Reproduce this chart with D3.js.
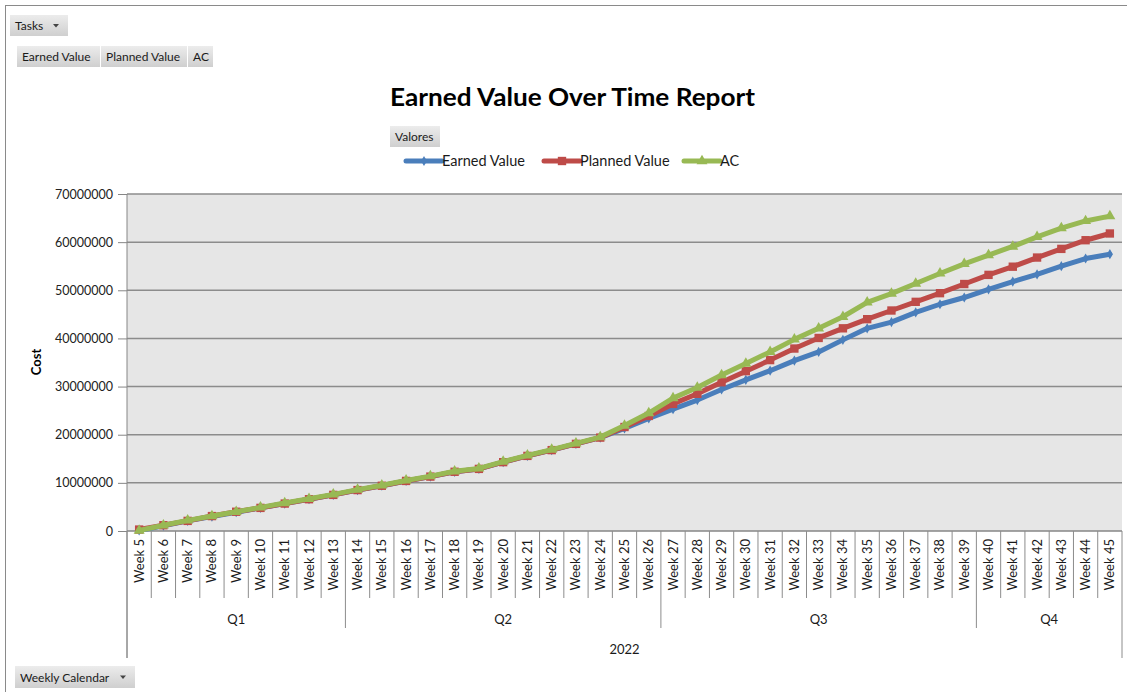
<!DOCTYPE html>
<html>
<head>
<meta charset="utf-8">
<script src="https://cdn.jsdelivr.net/npm/d3@7"></script>
<style>
  html, body { margin: 0; padding: 0; background: #fff; }
  svg { display: block; font-family: Lato, "Open Sans", sans-serif; }
</style>
</head>
<body>
<svg id="chart" width="1127" height="692"></svg>
<script>
// ---------------- DATA ----------------
const weeks = ["Week 5","Week 6","Week 7","Week 8","Week 9","Week 10","Week 11","Week 12","Week 13",
  "Week 14","Week 15","Week 16","Week 17","Week 18","Week 19","Week 20","Week 21","Week 22","Week 23",
  "Week 24","Week 25","Week 26","Week 27","Week 28","Week 29","Week 30","Week 31","Week 32","Week 33",
  "Week 34","Week 35","Week 36","Week 37","Week 38","Week 39","Week 40","Week 41","Week 42","Week 43",
  "Week 44","Week 45"];
const quarters = ["Q1","Q2","Q3","Q4"];
const quarterWeekCounts = [9, 13, 13, 6];
const yearLabel = "2022";
const seriesNames = ["Earned Value","Planned Value","AC"];
const earnedValue = [0.1e6,1.1e6,2.1e6,3.0e6,3.9e6,4.8e6,5.7e6,6.6e6,7.5e6,8.5e6,9.4e6,10.4e6,11.3e6,12.3e6,12.9e6,
  14.3e6,15.6e6,16.8e6,18.1e6,19.4e6,21.3e6,23.4e6,25.3e6,27.2e6,29.4e6,31.4e6,33.3e6,35.4e6,37.2e6,39.7e6,
  42.1e6,43.4e6,45.4e6,47.1e6,48.5e6,50.2e6,51.8e6,53.3e6,55.0e6,56.6e6,57.5e6];
const plannedValue = [0.3e6,1.2e6,2.1e6,3.1e6,4.0e6,4.8e6,5.7e6,6.6e6,7.5e6,8.5e6,9.4e6,10.4e6,11.3e6,12.3e6,12.9e6,
  14.3e6,15.6e6,16.8e6,18.1e6,19.4e6,21.6e6,23.9e6,26.4e6,28.5e6,30.9e6,33.2e6,35.5e6,37.9e6,40.1e6,42.1e6,
  44.0e6,45.8e6,47.6e6,49.4e6,51.3e6,53.2e6,54.9e6,56.8e6,58.6e6,60.4e6,61.8e6];
const actualCost = [0.1e6,1.2e6,2.2e6,3.1e6,4.0e6,4.9e6,5.8e6,6.7e6,7.6e6,8.6e6,9.5e6,10.5e6,11.4e6,12.4e6,13.0e6,
  14.4e6,15.7e6,16.9e6,18.2e6,19.5e6,21.9e6,24.5e6,27.6e6,29.8e6,32.4e6,34.8e6,37.2e6,39.8e6,42.1e6,44.5e6,
  47.5e6,49.3e6,51.4e6,53.5e6,55.5e6,57.3e6,59.1e6,61.1e6,62.9e6,64.4e6,65.4e6];
const yTicks = [0,10e6,20e6,30e6,40e6,50e6,60e6,70e6];

// ---------------- SETUP ----------------
const svg = d3.select("#chart");
const colors = ["#4A7EBB", "#BE4B48", "#98B954"];
const symbols = [d3.symbolDiamond, d3.symbolSquare, d3.symbolTriangle];
const symSizes = [30, 70, 52];
const seriesData = [earnedValue, plannedValue, actualCost];

const pLeft = 127, pRight = 1122, pTop = 194, pBottom = 531;
const x = d3.scaleBand().domain(weeks).range([pLeft, pRight]).padding(0);
const y = d3.scaleLinear().domain([0, 70e6]).range([pBottom, pTop]);

// Gradient for buttons
const defs = svg.append("defs");
const grad = defs.append("linearGradient").attr("id", "btn").attr("x1", 0).attr("y1", 0).attr("x2", 0).attr("y2", 1);
grad.append("stop").attr("offset", "0%").attr("stop-color", "#ececec");
grad.append("stop").attr("offset", "100%").attr("stop-color", "#cfcfcf");

// Outer frame
svg.append("line").attr("x1", 5).attr("x2", 1127).attr("y1", 5.5).attr("y2", 5.5).attr("stroke", "#8a8a8a").attr("stroke-width", 1);
svg.append("line").attr("x1", 5.5).attr("x2", 5.5).attr("y1", 5).attr("y2", 692).attr("stroke", "#8a8a8a").attr("stroke-width", 1);

function button(x0, y0, w, h, label, arrow) {
  const g = svg.append("g");
  g.append("rect").attr("x", x0).attr("y", y0).attr("width", w).attr("height", h).attr("fill", "url(#btn)");
  g.append("text").attr("x", x0 + 5).attr("y", y0 + h / 2 + 4.5).attr("font-size", 12).attr("fill", "#1a1a1a").text(label);
  if (arrow) {
    const ax = x0 + w - 12, ay = y0 + h / 2;
    g.append("path").attr("d", `M${ax - 3},${ay - 1.5} L${ax + 3},${ay - 1.5} L${ax},${ay + 2} Z`).attr("fill", "#444");
  }
}
button(10, 15, 58, 21, "Tasks", true);
button(17, 46, 83, 21, "Earned Value", false);
button(101, 46, 86, 21, "Planned Value", false);
button(188, 46, 25, 21, "AC", false);
button(390, 126, 50, 21, "Valores", false);
button(15, 666, 120, 22, "Weekly Calendar", true);

// Title
svg.append("text").attr("x", 390).attr("y", 106).attr("text-anchor", "start")
  .attr("font-size", 25).attr("font-weight", "bold").attr("fill", "#000")
  .attr("textLength", 365).attr("lengthAdjust", "spacingAndGlyphs")
  .text("Earned Value Over Time Report");

// Legend
const legendX = [406, 544, 684];
seriesNames.forEach((name, i) => {
  const g = svg.append("g");
  g.append("line").attr("x1", legendX[i]).attr("x2", legendX[i] + 36).attr("y1", 161).attr("y2", 161)
    .attr("stroke", colors[i]).attr("stroke-width", 5).attr("stroke-linecap", "round");
  g.append("path").attr("d", d3.symbol().type(symbols[i]).size(symSizes[i])())
    .attr("transform", `translate(${legendX[i] + 18},161)`).attr("fill", colors[i]);
  g.append("text").attr("x", legendX[i] + 36).attr("y", 166).attr("font-size", 14.5).attr("fill", "#1a1a1a").text(name);
});

// Plot background
svg.append("rect").attr("x", pLeft).attr("y", pTop).attr("width", pRight - pLeft).attr("height", pBottom - pTop).attr("fill", "#e6e6e6");

// Gridlines
svg.append("g").selectAll("line").data(yTicks.filter(d => d > 0)).join("line")
  .attr("x1", pLeft).attr("x2", pRight).attr("y1", d => y(d)).attr("y2", d => y(d))
  .attr("stroke", "#8c8c8c").attr("stroke-width", 1.5);

// Y axis
const yAxis = svg.append("g").attr("transform", `translate(${pLeft},0)`)
  .call(d3.axisLeft(y).tickValues(yTicks).tickFormat(d3.format("d")).tickSize(9).tickPadding(5));
yAxis.select(".domain").remove();
yAxis.selectAll(".tick line").attr("stroke", "#868686");
yAxis.selectAll(".tick text").attr("font-size", 12.5).attr("fill", "#222").attr("font-family", "Lato, sans-serif");
svg.append("line").attr("x1", pLeft).attr("x2", pLeft).attr("y1", pTop).attr("y2", 658).attr("stroke", "#868686");

// Y title
svg.append("text").attr("transform", "translate(41,362) rotate(-90)").attr("text-anchor", "middle")
  .attr("font-size", 13).attr("font-weight", "bold").attr("fill", "#000").text("Cost");

// X axis baseline
svg.append("line").attr("x1", pLeft).attr("x2", pRight).attr("y1", pBottom).attr("y2", pBottom).attr("stroke", "#868686").attr("stroke-width", 1.5);

// Category separators
const qBoundaries = [];
let acc = 0;
quarterWeekCounts.forEach(c => { acc += c; qBoundaries.push(acc); });
const step = x.step();
const sepIdx = d3.range(0, weeks.length + 1);
svg.append("g").selectAll("line").data(sepIdx).join("line")
  .attr("x1", i => pLeft + i * step).attr("x2", i => pLeft + i * step)
  .attr("y1", pBottom)
  .attr("y2", i => (i === 0 || i === weeks.length) ? 658 : (qBoundaries.includes(i) ? 628 : 598))
  .attr("stroke", "#8c8c8c").attr("stroke-width", 1);

// Week labels
svg.append("g").selectAll("text").data(weeks).join("text")
  .attr("transform", d => `translate(${x(d) + x.bandwidth() / 2 + 4.5},539) rotate(-90)`)
  .attr("text-anchor", "end").attr("font-size", 13).attr("fill", "#1a1a1a").text(d => d);

// Quarter labels
let startIdx = 0;
quarters.forEach((q, i) => {
  const x0 = pLeft + startIdx * step, x1 = pLeft + (startIdx + quarterWeekCounts[i]) * step;
  svg.append("text").attr("x", (x0 + x1) / 2).attr("y", 624).attr("text-anchor", "middle")
    .attr("font-size", 13).attr("fill", "#1a1a1a").text(q);
  startIdx += quarterWeekCounts[i];
});
svg.append("text").attr("x", (pLeft + pRight) / 2).attr("y", 654).attr("text-anchor", "middle")
  .attr("font-size", 13).attr("fill", "#1a1a1a").text(yearLabel);

// Lines
const cx = d => x(d) + x.bandwidth() / 2;
seriesData.forEach((vals, i) => {
  const pts = weeks.map((w, j) => [cx(w), y(vals[j])]);
  svg.append("path").datum(pts).attr("d", d3.line())
    .attr("fill", "none").attr("stroke", colors[i]).attr("stroke-width", 5)
    .attr("stroke-linejoin", "round").attr("stroke-linecap", "round");
  svg.append("g").selectAll("path").data(pts).join("path")
    .attr("d", d3.symbol().type(symbols[i]).size(symSizes[i])())
    .attr("transform", p => `translate(${p[0]},${p[1]})`).attr("fill", colors[i]);
});
</script>
</body>
</html>
